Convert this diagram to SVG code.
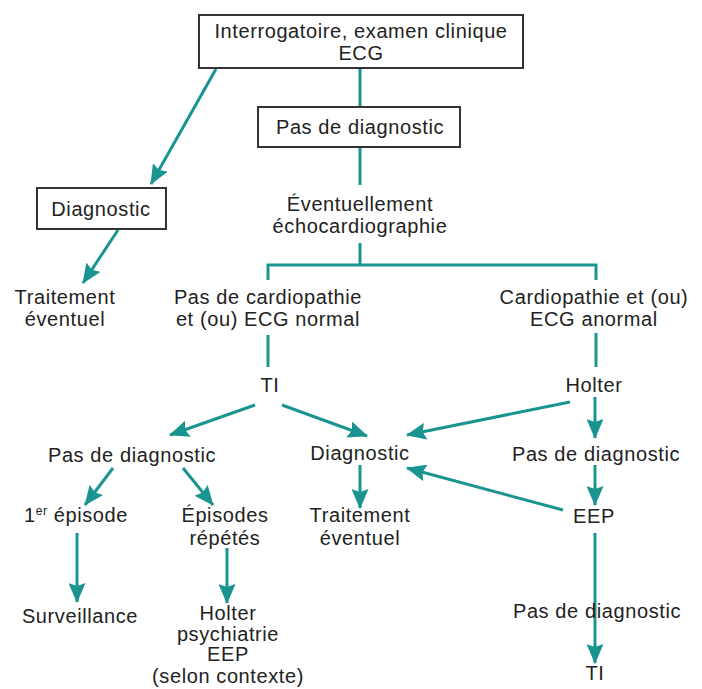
<svg xmlns="http://www.w3.org/2000/svg" width="702" height="689" viewBox="0 0 702 689">
<style>
text{font-family:"Liberation Sans",Arial,sans-serif;font-size:20px;letter-spacing:0.6px;fill:#222;text-anchor:middle}
.box{fill:#fff;stroke:#333;stroke-width:2}
.c{fill:none;stroke:#1a9490;stroke-width:3}
.a{marker-end:url(#ah)}
</style>
<defs>
<marker id="ah" markerUnits="userSpaceOnUse" viewBox="0 0 20 17" refX="19" refY="8.5" markerWidth="20" markerHeight="17" orient="auto">
<path d="M0,0 L20,8.5 L0,17 L3,8.5 Z" fill="#1a9490"/>
</marker>
</defs>
<rect width="702" height="689" fill="#fff"/>
<g id="connectors">
<path class="c" d="M360,68 V107"/>
<path class="c" d="M360,147 V185"/>
<path class="c" d="M360,243 V265 M268,280 V265 H596 V280"/>
<path class="c" d="M268,335 V367"/>
<path class="c" d="M596,333 V367"/>
<path class="c a" d="M216,69 L151,184"/>
<path class="c a" d="M118,230 L83,283"/>
<path class="c a" d="M255,405 L170,435"/>
<path class="c a" d="M282,405 L367,436"/>
<path class="c a" d="M570,402 L407,435"/>
<path class="c a" d="M595,397 V438"/>
<path class="c a" d="M360,465 V508"/>
<path class="c a" d="M563,510 L407,468"/>
<path class="c a" d="M595,465 V505"/>
<path class="c a" d="M595,533 V663"/>
<path class="c a" d="M113,468 L85,505"/>
<path class="c a" d="M183,468 L213,505"/>
<path class="c a" d="M77,533 V602"/>
<path class="c a" d="M227,548 V603"/>
</g>
<g id="n-interrogatoire">
<rect class="box" x="199" y="15" width="324" height="53"/>
<text x="361" y="38">Interrogatoire, examen clinique</text>
<text x="361" y="60">ECG</text>
</g>
<g id="n-pasdiag-top">
<rect class="box" x="258" y="107" width="202" height="40"/>
<text x="360" y="134">Pas de diagnostic</text>
</g>
<g id="n-echo">
<text x="360" y="211">Éventuellement</text>
<text x="360" y="233">échocardiographie</text>
</g>
<g id="n-diagnostic-left">
<rect class="box" x="37" y="188" width="129" height="41"/>
<text x="101" y="216">Diagnostic</text>
</g>
<g id="n-traitement-left">
<text x="65" y="304">Traitement</text>
<text x="65" y="326">éventuel</text>
</g>
<g id="n-normal">
<text x="268" y="304">Pas de cardiopathie</text>
<text x="268" y="326">et (ou) ECG normal</text>
</g>
<g id="n-anormal">
<text x="594" y="304">Cardiopathie et (ou)</text>
<text x="594" y="326">ECG anormal</text>
</g>
<g id="n-ti">
<text x="270" y="392">TI</text>
</g>
<g id="n-holter">
<text x="594" y="392">Holter</text>
</g>
<g id="n-pasdiag-left">
<text x="132" y="462">Pas de diagnostic</text>
</g>
<g id="n-diagnostic-mid">
<text x="360" y="460">Diagnostic</text>
</g>
<g id="n-pasdiag-right">
<text x="596" y="461">Pas de diagnostic</text>
</g>
<g id="n-premier">
<text x="76" y="522">1<tspan font-size="12" dy="-7">er</tspan><tspan dy="7"> épisode</tspan></text>
</g>
<g id="n-episodes">
<text x="225" y="522">Épisodes</text>
<text x="225" y="545">répétés</text>
</g>
<g id="n-traitement-mid">
<text x="360" y="522">Traitement</text>
<text x="360" y="545">éventuel</text>
</g>
<g id="n-eep">
<text x="594" y="523">EEP</text>
</g>
<g id="n-surveillance">
<text x="80" y="623">Surveillance</text>
</g>
<g id="n-holter-psy">
<text x="228" y="620">Holter</text>
<text x="228" y="641">psychiatrie</text>
<text x="228" y="661">EEP</text>
<text x="228" y="683">(selon contexte)</text>
</g>
<g id="n-pasdiag-bottom">
<text x="597" y="618">Pas de diagnostic</text>
</g>
<g id="n-ti-bottom">
<text x="595" y="680">TI</text>
</g>
</svg>
